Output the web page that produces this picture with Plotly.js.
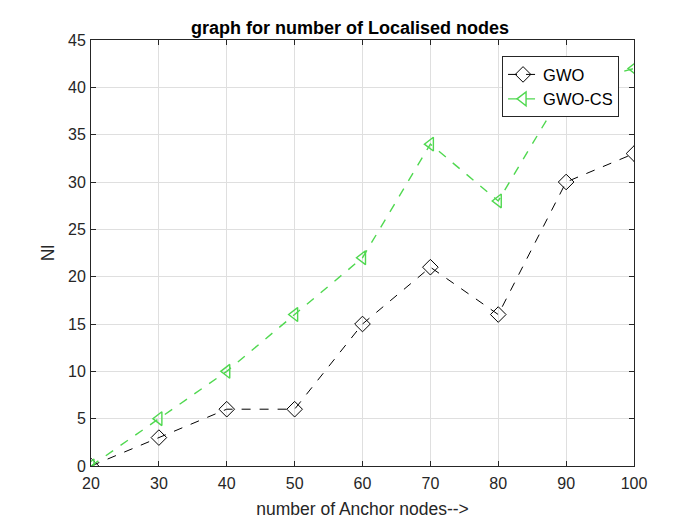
<!DOCTYPE html>
<html>
<head>
<meta charset="utf-8">
<script src="https://cdn.plot.ly/plotly-3.0.1.min.js"></script>
<style>html,body{margin:0;padding:0;background:#fff;}#plot{width:700px;height:525px;}</style>
</head>
<body>
<div id="plot"></div>
<script>
const anchorNodes = [20, 30, 40, 50, 60, 70, 80, 90, 100];
const gwo = [0, 3, 6, 6, 15, 21, 16, 30, 33];
const gwoCs = [0, 5, 10, 16, 22, 34, 28, 40, 42];
const xTicks = [20, 30, 40, 50, 60, 70, 80, 90, 100];
const yTicks = [0, 5, 10, 15, 20, 25, 30, 35, 40, 45];

const font = 'Liberation Sans, Arial, Helvetica, sans-serif';
const traces = [
  {
    x: anchorNodes, y: gwo, name: 'GWO', type: 'scatter', mode: 'lines+markers',
    line: {color: '#000000', dash: 'dash', width: 1},
    marker: {symbol: 'diamond-open', size: 12, color: '#000000', line: {width: 1}}
  },
  {
    x: anchorNodes, y: gwoCs, name: 'GWO-CS', type: 'scatter', mode: 'lines+markers',
    line: {color: '#50d850', dash: 'dash', width: 1.4},
    marker: {symbol: 'triangle-left-open', size: 12, color: '#50d850', line: {width: 1.4}}
  }
];
const axisCommon = {
  showline: true, linecolor: '#262626', linewidth: 1, mirror: 'ticks',
  ticks: 'inside', ticklen: 5, tickcolor: '#262626',
  showgrid: true, gridcolor: '#dfdfdf', gridwidth: 1, zeroline: false,
  tickfont: {family: font, size: 16, color: '#262626'}
};
const layout = {
  width: 700, height: 525,
  margin: {l: 91, r: 66, t: 40, b: 59},
  paper_bgcolor: '#ffffff', plot_bgcolor: '#ffffff',
  title: {text: '<b>graph for number of Localised nodes</b>', font: {family: font, size: 18, color: '#000000'}, x: 0.5, xanchor: 'center', y: 0.948, yanchor: 'middle'},
  xaxis: Object.assign({}, axisCommon, {
    range: [20, 100], tickvals: xTicks, ticktext: xTicks.map(String),
    ticklabelstandoff: 3,
    title: {text: 'number of Anchor nodes-->', font: {family: font, size: 17.5, color: '#262626'}, standoff: 11}
  }),
  yaxis: Object.assign({}, axisCommon, {
    range: [0, 45], tickvals: yTicks, ticktext: yTicks.map(String),
    ticklabelstandoff: 1,
    title: {text: 'Nl', font: {family: font, size: 17.5, color: '#262626'}, standoff: 8}
  }),
  showlegend: true,
  legend: {
    x: 0.757, y: 0.962, xanchor: 'left', yanchor: 'top',
    bgcolor: '#ffffff', bordercolor: '#262626', borderwidth: 1,
    font: {family: font, size: 16.5, color: '#000000'}, tracegroupgap: 0,
    itemwidth: 30
  }
};
Plotly.newPlot('plot', traces, layout, {displayModeBar: false, staticPlot: true});
</script>
</body>
</html>
